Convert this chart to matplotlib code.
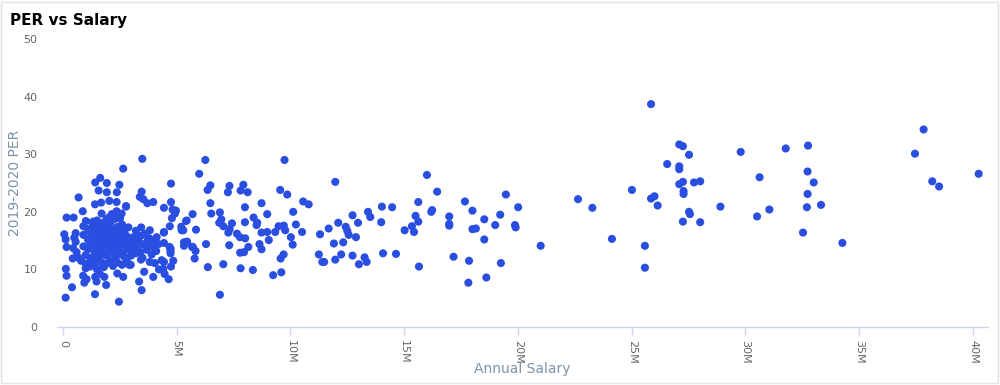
import matplotlib.pyplot as plt
from matplotlib.patches import Rectangle
from matplotlib.ticker import FuncFormatter

# annual salary (millions) and 2019-2020 PER
salary_m = [
    # sparse right side
    25.85, 27.09, 27.25, 27.52, 26.56, 27.09, 27.09, 27.09, 27.25, 27.74, 28.01, 27.28, 27.28,
    25.01, 25.85, 26.0, 26.14, 27.52, 27.56, 27.25, 28.01, 28.9, 22.64, 23.27, 24.13, 25.58,
    25.58, 29.79, 30.62, 30.51, 31.05, 31.77, 32.75, 32.73, 33.0, 32.73, 32.70, 33.32, 32.53,
    34.26, 37.83, 37.45, 38.21, 38.51, 40.25,
    # 12M - 21M
    16.0, 16.45, 15.62, 17.67, 18.0, 19.47, 20.01, 16.19, 16.23, 15.5, 15.62, 15.34, 15.43,
    15.02, 16.98, 16.98, 16.98, 18.52, 19.22, 19.0, 19.87, 19.9, 18.0, 18.15, 18.52, 21.0,
    17.17, 17.85, 19.25, 17.82, 18.61, 15.65, 14.02, 14.47, 13.41, 13.51, 12.73, 12.97, 13.99,
    12.43, 12.5, 12.56, 12.88, 12.32, 12.23, 12.73, 13.26, 13.35, 13.01, 14.07, 14.64,
    # 4M - 12M
    6.26, 9.74, 5.99, 11.97, 4.75, 6.48, 6.36, 7.32, 7.25, 7.93, 7.81, 8.12, 9.55, 9.86, 10.56,
    10.8, 4.75, 4.44, 4.82, 4.97, 4.92, 4.79, 6.48, 6.52, 5.7, 5.44, 4.7, 4.44, 5.2, 5.29, 5.85,
    6.9, 6.96, 6.87, 7.05, 7.43, 7.33, 7.27, 8.0, 8.0, 8.73, 8.98, 8.38, 8.54, 8.51, 7.65, 7.78,
    8.01, 8.73, 8.98, 9.05, 9.33, 9.48, 9.71, 9.77, 10.12, 10.24, 10.02, 10.1, 10.51, 4.44,
    4.69, 4.73, 4.73, 4.73, 4.85, 4.75, 4.44, 4.41, 4.47, 4.65, 5.32, 5.46, 5.32, 5.68, 5.83,
    5.79, 6.29, 6.37, 7.05, 6.9, 7.31, 7.79, 7.96, 8.15, 7.81, 8.35, 8.64, 8.73, 9.24, 9.6,
    9.57, 9.7, 11.3, 11.68, 12.1, 11.91, 11.25, 11.4, 11.48, 11.97,
    # 0M - 4M edges
    3.49, 2.65, 1.42, 1.64, 1.93, 2.48, 1.57, 1.93, 2.37, 0.69, 1.41, 1.68, 2.04, 2.36, 2.78,
    3.46, 3.38, 3.53, 3.71, 3.97, 0.16, 0.47, 0.87, 1.01, 1.33, 1.7, 2.01, 2.15, 2.36, 2.58,
    2.51, 2.77, 2.88, 3.21, 3.44, 3.82, 3.42, 3.74, 4.12, 3.79, 3.97, 4.44, 5.22, 5.41, 5.44,
    5.71, 0.06, 0.12, 0.16, 0.56, 0.56, 0.45, 0.43, 0.13, 0.16, 0.4, 0.12, 0.89, 1.04, 0.94,
    1.42, 1.48, 1.63, 1.82, 1.9, 1.41, 2.46, 2.39, 2.65, 2.91, 3.35, 3.46, 3.57, 3.97, 4.22,
    4.34, 4.04, 3.82, 3.43, 3.68, 3.31, 2.98,
    # dense core
    0.5, 0.6, 0.7, 0.8, 0.9, 0.9, 0.9, 1.0, 1.0, 1.0, 1.1, 1.1, 1.1, 1.2, 1.2, 1.2, 1.2, 1.3,
    1.3, 1.3, 1.3, 1.4, 1.4, 1.4, 1.4, 1.4, 1.5, 1.5, 1.5, 1.5, 1.5, 1.6, 1.6, 1.6, 1.6, 1.6,
    1.7, 1.7, 1.7, 1.7, 1.7, 1.8, 1.8, 1.8, 1.8, 1.8, 1.9, 1.9, 1.9, 1.9, 1.9, 2.0, 2.0, 2.0,
    2.0, 2.1, 2.1, 2.1, 2.1, 2.2, 2.2, 2.2, 2.2, 2.3, 2.3, 2.3, 2.3, 2.4, 2.4, 2.4, 2.4, 2.5,
    2.5, 2.5, 2.6, 2.6, 2.6, 2.6, 2.7, 2.7, 2.7, 2.8, 2.8, 2.8, 2.9, 2.9, 3.0, 3.0, 3.1, 3.1,
    3.2, 3.2, 3.3, 3.4, 3.5, 3.5, 3.6, 3.7, 3.8, 3.9, 4.0, 4.1, 4.2,
]
per = [
    38.7, 31.7, 31.4, 29.9, 28.3, 27.9, 27.4, 24.8, 25.2, 25.1, 25.3, 23.6, 23.1,
    23.8, 22.3, 22.7, 21.1, 20.0, 19.6, 18.3, 18.2, 20.9, 22.2, 20.7, 15.3, 14.1,
    10.3, 30.4, 26.0, 19.2, 20.4, 31.0, 31.5, 27.0, 25.1, 23.1, 20.8, 21.2, 16.4,
    14.6, 34.3, 30.1, 25.3, 24.4, 26.6,
    26.4, 23.5, 21.7, 21.8, 20.2, 23.0, 20.8, 20.0, 20.3, 19.3, 18.3, 17.5, 16.5,
    16.8, 19.2, 17.9, 17.6, 18.7, 19.5, 17.7, 17.7, 17.3, 17.0, 17.1, 15.2, 14.1,
    12.2, 11.5, 11.1, 7.7, 8.6, 10.5, 20.9, 20.8, 20.0, 19.1, 19.4, 18.1, 18.2,
    17.4, 16.7, 16.0, 15.6, 14.7, 12.6, 12.4, 12.1, 11.3, 10.9, 12.8, 12.7,
    29.0, 29.0, 26.6, 25.2, 24.9, 24.6, 23.8, 24.5, 23.4, 24.7, 23.7, 23.4, 23.8, 23.0, 21.8,
    21.3, 21.7, 20.7, 20.4, 20.2, 19.7, 18.9, 21.5, 19.7, 19.6, 18.5, 17.5, 16.5, 17.4, 16.8, 16.9,
    19.9, 18.7, 18.1, 17.5, 18.0, 17.0, 16.4, 20.8, 18.2, 21.5, 19.6, 19.0, 18.1, 17.7, 16.2, 15.6,
    15.4, 16.4, 16.5, 15.1, 16.5, 17.5, 17.6, 16.8, 20.0, 17.8, 15.6, 14.3, 16.5, 14.6,
    13.9, 13.6, 13.2, 12.8, 11.5, 10.5, 11.3, 10.1, 9.2, 8.3, 14.7, 14.8, 14.1, 13.9, 13.2,
    11.9, 14.4, 10.4, 10.9, 5.6, 14.2, 12.9, 13.0, 13.9, 10.2, 9.9, 14.4, 13.5, 9.0, 9.5,
    11.9, 12.6, 16.1, 17.1, 18.1, 14.5, 12.6, 11.3, 11.3, 11.7,
    29.2, 27.5, 25.1, 25.9, 25.0, 24.7, 23.7, 23.4, 23.4, 22.5, 21.3, 21.6, 21.9, 21.7, 21.0,
    23.5, 22.6, 22.2, 21.5, 21.7, 19.0, 19.0, 20.1, 18.4, 18.3, 19.7, 19.0, 19.6, 20.1, 19.7,
    18.9, 20.9, 17.3, 16.7, 17.3, 16.8, 15.8, 15.2, 15.6, 14.2, 13.9, 16.4, 16.8, 18.4, 14.8,
    13.9, 16.1, 15.2, 13.9, 16.3, 14.8, 13.7, 11.9, 10.1, 8.9, 6.9, 5.1, 8.9, 8.3, 7.7,
    8.7, 7.9, 9.2, 8.7, 7.3, 5.7, 4.4, 9.3, 8.7, 10.8, 7.9, 6.4, 9.6, 8.7, 10.0,
    11.6, 11.1, 11.3, 11.7, 13.4, 13.4, 10.8,
    15.5, 13.0, 12.0, 11.5, 17.5, 16.0, 14.0, 12.5, 11.0, 10.2, 17.0, 15.2, 13.5, 16.5, 14.5, 12.0, 10.5, 18.0,
    15.8, 13.8, 11.5, 17.2, 16.0, 14.2, 12.8, 10.8, 18.5, 15.0, 13.2, 11.8, 10.0, 17.5, 16.4, 14.8, 13.6, 12.2,
    18.0, 16.8, 15.4, 14.0, 11.2, 17.2, 15.8, 14.5, 13.0, 10.4, 18.6, 16.2, 14.8, 12.4, 11.0, 17.6, 15.2, 13.8,
    12.8, 18.2, 16.6, 14.3, 11.6, 17.0, 15.6, 13.2, 10.6, 18.8, 16.0, 14.6, 12.0, 17.4, 15.0, 13.6, 11.2, 16.4,
    14.2, 12.6, 17.8, 15.4, 13.0, 10.8, 16.8, 14.8, 12.2, 15.8, 14.0, 11.6, 15.2, 13.4, 14.6, 12.4, 15.6, 13.8,
    14.2, 12.8, 15.0, 13.0, 14.4, 12.0, 16.2, 13.6, 15.4, 12.6, 14.8, 13.2, 14.4,
]

x_ticks = [0, 5, 10, 15, 20, 25, 30, 35, 40]
y_ticks = [0, 10, 20, 30, 40, 50]

fig = plt.figure(figsize=(10, 3.85), dpi=100)
ax = fig.add_axes([0.057, 0.1506, 0.931, 0.748])

ax.scatter(salary_m, per, s=34, color="#2a4fe0", edgecolors="none", zorder=3)

ax.set_xlim(-0.26, 40.66)
ax.set_ylim(0, 50)
ax.set_xticks(x_ticks)
ax.set_yticks(y_ticks)
ax.xaxis.set_major_formatter(FuncFormatter(lambda v, p: "0" if v == 0 else f"{int(v)}M"))

for s in ["top", "right", "left"]:
    ax.spines[s].set_visible(False)
ax.spines["bottom"].set_color("#ccd6eb")
ax.spines["bottom"].set_linewidth(1)

ax.tick_params(axis="x", colors="#ccd6eb", length=6, width=1, labelcolor="#666666",
               labelsize=8, labelrotation=-90, pad=3)
ax.tick_params(axis="y", length=0, labelcolor="#666666", labelsize=8, pad=14)

ax.set_xlabel("Annual Salary", color="#7d93a8", fontsize=10)
ax.set_ylabel("2019-2020 PER", color="#7d93a8", fontsize=10)
ax.xaxis.set_label_coords(0.4995, -0.12)
ax.yaxis.set_label_coords(-0.0376, 0.5)

fig.text(0.01, 0.947, "PER vs Salary", fontsize=11, fontweight="bold", color="black", va="center")

fig.patches.append(Rectangle((0.001, 0.006), 0.997, 0.99, transform=fig.transFigure,
                             fill=False, edgecolor="#e3e3e3", linewidth=1))

fig.savefig("out.png", dpi=100)
